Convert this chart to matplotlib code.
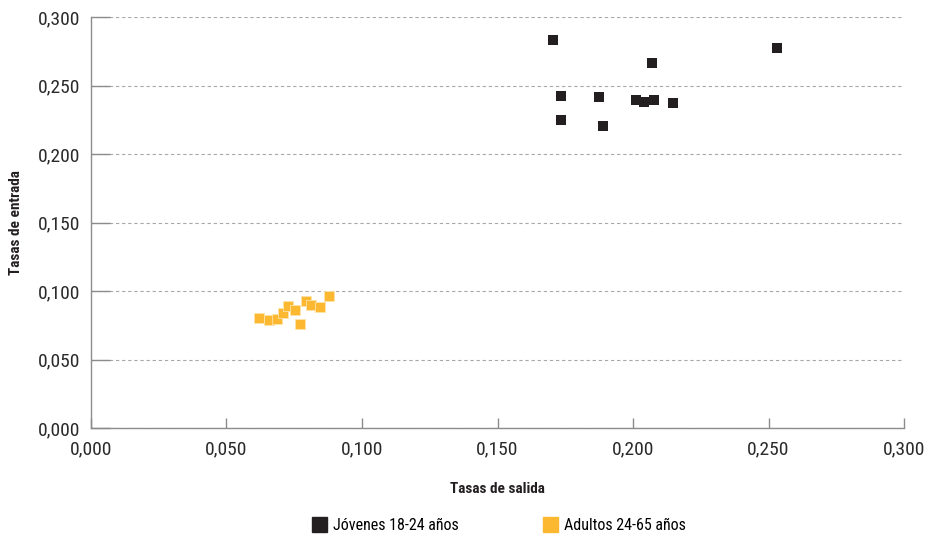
import matplotlib.pyplot as plt
from matplotlib.ticker import FuncFormatter, MultipleLocator
from matplotlib.lines import Line2D

plt.rcParams['font.family'] = ['Roboto Condensed', 'Liberation Sans Narrow', 'Roboto', 'DejaVu Sans']

# tasas de salida (x) y tasas de entrada (y)
jovenes_salida = [0.1704, 0.2530, 0.2071, 0.1734, 0.1873, 0.2010, 0.2042, 0.2077, 0.2148, 0.1734, 0.1890]
jovenes_entrada = [0.2830, 0.2771, 0.2662, 0.2423, 0.2414, 0.2394, 0.2382, 0.2394, 0.2370, 0.2246, 0.2204]
adultos_salida = [0.0621, 0.0657, 0.0685, 0.0707, 0.0728, 0.0753, 0.0772, 0.0793, 0.0812, 0.0846, 0.0878]
adultos_entrada = [0.0803, 0.0786, 0.0798, 0.0837, 0.0888, 0.0861, 0.0759, 0.0929, 0.0898, 0.0885, 0.0963]
series_names = ['Jóvenes 18-24 años', 'Adultos 24-65 años']

BLACK = '#231f20'
ORANGE = '#fdb832'
GREY = '#8c8c8c'

fig = plt.figure(figsize=(9.32, 5.35), dpi=100)
ax = fig.add_axes([0.0976, 0.2, 0.8724, 0.768])

ax.scatter(jovenes_salida, jovenes_entrada, marker='s', s=42, color=BLACK, linewidths=0, zorder=3)
ax.scatter(adultos_salida, adultos_entrada, marker='s', s=46, color=ORANGE,
           edgecolors='#fde3a8', linewidths=0.6, zorder=3)

ax.set_xlim(0, 0.3)
ax.set_ylim(0, 0.3)
ax.xaxis.set_major_locator(MultipleLocator(0.05))
ax.yaxis.set_major_locator(MultipleLocator(0.05))
fmt = FuncFormatter(lambda v, p: f'{v:.3f}'.replace('.', ','))
ax.xaxis.set_major_formatter(fmt)
ax.yaxis.set_major_formatter(fmt)

ax.yaxis.grid(True, linestyle=(0, (3, 2.5)), color='#a8a8a8', linewidth=0.8)
ax.set_axisbelow(True)

for s in ['top', 'right']:
    ax.spines[s].set_visible(False)
for s in ['left', 'bottom']:
    ax.spines[s].set_color(GREY)
    ax.spines[s].set_linewidth(1.0)

ax.tick_params(axis='y', direction='in', length=14, width=1.0, color=GREY,
               labelsize=14, labelcolor='#2a2a2a', pad=8)
ax.tick_params(axis='x', direction='in', length=7, width=1.0, color=GREY,
               labelsize=14, labelcolor='#2a2a2a', pad=9)

ax.set_xlabel('Tasas de salida', fontsize=11, fontweight='bold', color=BLACK)
ax.set_ylabel('Tasas de entrada', fontsize=11, fontweight='bold', color=BLACK)
ax.xaxis.set_label_coords(0.5, -0.131)
ax.yaxis.set_label_coords(-0.083, 0.5)

handles = [Line2D([], [], marker='s', linestyle='', markersize=10.8, color=BLACK),
           Line2D([], [], marker='s', linestyle='', markersize=10.8, color=ORANGE)]
fig.legend(handles, series_names, loc='center', bbox_to_anchor=(0.535, 0.018), ncol=2,
           frameon=False, fontsize=11.5, handletextpad=0.4, columnspacing=5.2, handlelength=1.0)

fig.savefig('out.png', dpi=100)
